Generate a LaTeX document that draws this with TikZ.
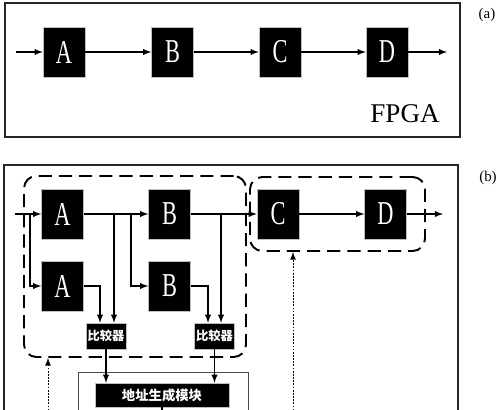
\documentclass[tikz,border=0pt]{standalone}
\usepackage{fontspec}
\setmainfont{Liberation Serif}
\newfontfamily\cjk{Noto Sans CJK SC}
\usetikzlibrary{arrows, positioning}

\newcommand{\blockletter}[1]{\scalebox{0.67}[1]{\fontsize{19}{19}\selectfont #1}}

\begin{document}
\begin{tikzpicture}[x=0.02cm, y=-0.02cm,
    block/.style={shape=rectangle, fill=black, draw=gray!50, line width=0.3pt, minimum width=0.84cm, minimum height=1cm, inner sep=0pt, text=white},
    cmpbox/.style={shape=rectangle, fill=black, draw=gray!50, line width=0.3pt, minimum width=0.8cm, minimum height=0.52cm, inner sep=0pt, text=white, font=\cjk\bfseries\fontsize{7}{8}\selectfont},
    addrbox/.style={cmpbox, minimum width=2.68cm, minimum height=0.48cm, font=\cjk\bfseries\fontsize{7.6}{8}\selectfont},
    frame/.style={draw=black!85, line width=0.9pt},
    wire/.style={draw, line width=0.6pt, -latex},
    group/.style={draw, line width=1.1pt, dash pattern=on 7.5pt off 4pt, rounded corners=7pt, inner sep=0pt},
    trigger/.style={draw, line width=0.5pt, dash pattern=on 1pt off 0.8pt, -latex}]
    \clip (0,0) rectangle (500,409);

    % (a)
    \draw[frame] (5,3) rectangle (460,137);
    \node[block] (A) at (64,52) {\blockletter{A}};
    \node[block] (B) at (172.5,52) {\blockletter{B}};
    \node[block] (C) at (280,52) {\blockletter{C}};
    \node[block] (D) at (387,52) {\blockletter{D}};
    \coordinate (ina) at (16,52);
    \coordinate (outa) at (447,52);
    \path[wire] (ina) -- (A);
    \path[wire] (A) -- (B);
    \path[wire] (B) -- (C);
    \path[wire] (C) -- (D);
    \path[wire] (D) -- (outa);
    \node (fpga) at (405,114) {\fontsize{15.4}{16}\selectfont FPGA};
    \node (labela) at (487,15) {\fontsize{8.5}{9}\selectfont (a)};

    % (b)
    \draw[frame] (4,165) rectangle (458,430);
    \node[group, minimum width=4.44cm, minimum height=3.62cm] (grp1) at (135,266.5) {};
    \node[group, minimum width=3.5cm, minimum height=1.48cm] (grp2) at (337.5,214) {};
    \node[block] (A1) at (62.5,214) {\blockletter{A}};
    \node[block] (A2) at (62.5,286) {\blockletter{A}};
    \node[block] (B1) at (169.5,214) {\blockletter{B}};
    \node[block] (B2) at (169.5,286) {\blockletter{B}};
    \node[block] (C1) at (278,214) {\blockletter{C}};
    \node[block] (D1) at (385.5,214) {\blockletter{D}};
    \node[cmpbox] (cmp1) at (106,336) {比较器};
    \node[cmpbox] (cmp2) at (214.5,336) {比较器};
    \draw[draw=black!70, line width=0.5pt] (78,372) rectangle (248,430);
    \node[addrbox] (addr) at (162,395) {地址生成模块};

    \coordinate (inb) at (15,214);
    \coordinate (splitA) at (30,214);
    \coordinate (tapA) at (114,214);
    \coordinate (splitB) at (131,214);
    \coordinate (tapB) at (221,214);
    \coordinate (outb) at (443,214);
    \coordinate (addrout) at (162,420);
    \coordinate (trig1) at (48,420);
    \coordinate (trig2) at (293,420);

    \path[wire] (inb) -- (A1);
    \path[wire] (splitA) |- (A2.west);
    \path[wire] (A1) -- (B1);
    \path[wire] (tapA) -- (tapA |- cmp1.north);
    \path[wire] (A2.east) -| ([xshift=-0.12cm]cmp1.north);
    \path[wire] (splitB) |- (B2.west);
    \path[wire] (B1) -- (C1);
    \path[wire] (tapB) -- (tapB |- cmp2.north);
    \path[wire] (B2.east) -| ([xshift=-0.13cm]cmp2.north);
    \path[wire] (C1) -- (D1);
    \path[wire] (D1) -- (outb);
    \path[wire] (cmp1) -- (cmp1 |- addr.north);
    \path[wire] (cmp2) -- (cmp2 |- addr.north);
    \draw[line width=0.6pt] (addr.south) -- (addrout);
    \path[trigger] (trig1) -- (trig1 |- grp1.south);
    \path[trigger] (trig2) -- (trig2 |- grp2.south);
    \node (labelb) at (488,178) {\fontsize{8.5}{9}\selectfont (b)};
\end{tikzpicture}
\end{document}
